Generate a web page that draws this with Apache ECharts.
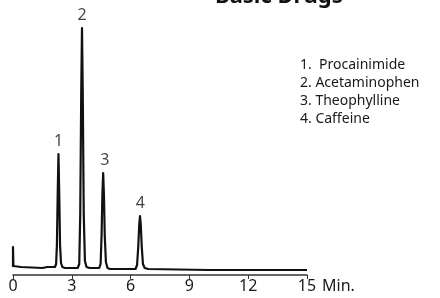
<!DOCTYPE html>
<html>
<head>
<meta charset="utf-8">
<script src="https://cdn.jsdelivr.net/npm/echarts@6/dist/echarts.min.js"></script>
<style>
  html, body { margin: 0; padding: 0; background: #fff; }
  #chartDIV { width: 440px; height: 298px; }
</style>
</head>
<body>
<div id="chartDIV"></div>
<script>
// chromatogram trace, [minutes, detector response]
var trace = [
    [0, 8], [0, 28], [0.02, 9], [0.4, 8], [1.5, 7], [1.75, 8], [1.85, 9], [1.95, 8],
    [2.14, 8], [2.2, 11], [2.24, 30], [2.28, 80], [2.32, 121], [2.36, 80], [2.4, 30], [2.45, 12], [2.52, 8], [2.65, 7],
    [3.3, 7], [3.38, 11], [3.43, 60], [3.48, 180], [3.52, 247], [3.56, 180], [3.61, 60], [3.67, 14], [3.75, 8], [3.9, 7],
    [4.4, 7], [4.47, 11], [4.52, 40], [4.56, 80], [4.6, 102], [4.64, 80], [4.68, 40], [4.74, 13], [4.82, 7], [4.95, 6],
    [6.25, 6], [6.33, 10], [6.39, 28], [6.44, 50], [6.48, 59], [6.52, 50], [6.57, 28], [6.63, 11], [6.72, 7], [6.9, 6],
    [10, 5], [15, 5]
];
var peakNums = ['1', '2', '3', '4'];
var peakTimes = [2.32, 3.52, 4.68, 6.5];
var peakTops = [121, 247, 102, 59];
var compounds = ['1.  Procainimide', '2. Acetaminophen', '3. Theophylline', '4. Caffeine'];
var xTicks = [0, 3, 6, 9, 12, 15];

var myChart = echarts.init(document.getElementById('chartDIV'));

var peakLabels = peakNums.map(function (n, i) {
    return { value: [peakTimes[i], peakTops[i]], name: n };
});

var legendText = compounds.map(function (c, i) {
    return {
        type: 'text',
        left: 300,
        top: 58 + i * 18,
        style: { text: c, font: '14px "Noto Sans"', fill: '#1a1a1a' }
    };
});

var option = {
    animation: false,
    title: {
        text: 'Basic Drugs',
        left: 210,
        top: -19,
        textStyle: { fontFamily: 'Noto Sans', fontWeight: 'bold', fontSize: 22, color: '#111' }
    },
    grid: { left: 13, right: 133, top: 25, bottom: 23 },
    xAxis: {
        type: 'value',
        min: xTicks[0],
        max: xTicks[xTicks.length - 1],
        interval: 3,
        name: 'Min.',
        nameLocation: 'end',
        nameGap: 14,
        nameTextStyle: { fontFamily: 'Noto Sans', fontSize: 16, color: '#1a1a1a', verticalAlign: 'top', padding: [3, 0, 0, 0] },
        splitLine: { show: false },
        axisLine: { lineStyle: { color: '#333', width: 1.5 } },
        axisTick: { length: 4, lineStyle: { color: '#333' } },
        axisLabel: { fontFamily: 'Noto Sans', fontSize: 16, color: '#1a1a1a', margin: 3 }
    },
    yAxis: {
        type: 'value',
        min: 0,
        max: 250,
        show: false
    },
    graphic: legendText,
    series: [
        {
            type: 'line',
            data: trace,
            showSymbol: false,
            lineStyle: { color: '#111', width: 2.2, join: 'round' }
        },
        {
            type: 'scatter',
            data: peakLabels,
            symbolSize: 0,
            label: {
                show: true,
                position: 'top',
                distance: 5,
                formatter: function (p) { return p.name; },
                fontFamily: 'Noto Sans',
                fontSize: 16,
                color: '#111'
            }
        }
    ]
};
myChart.setOption(option);
</script>
</body>
</html>
